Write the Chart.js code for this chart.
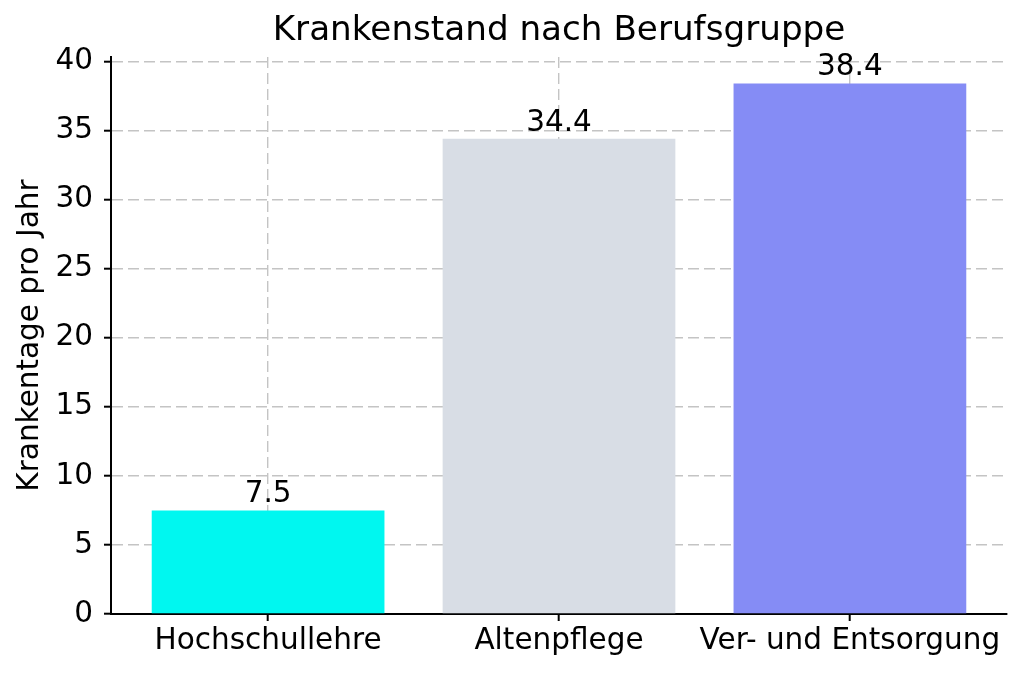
<!DOCTYPE html>
<html lang="de">
<head>
<meta charset="utf-8">
<title>Krankenstand nach Berufsgruppe</title>
<script src="https://cdn.jsdelivr.net/npm/chart.js@4/dist/chart.umd.min.js"></script>
<style>
  html, body { margin: 0; padding: 0; background: #fff; }
  #wrap { width: 1024px; height: 678px; position: relative; }
</style>
</head>
<body>
<div id="wrap"><canvas id="chart"></canvas></div>
<script>
'use strict';

const categories = ['Hochschullehre', 'Altenpflege', 'Ver- und Entsorgung'];
const sickDays = [7.5, 34.4, 38.4];
const barColors = ['#00F7F0', '#D8DDE5', '#858CF5'];
const yTicks = [0, 5, 10, 15, 20, 25, 30, 35, 40];

const gridColor = '#c4c4c4';
const labelSize = 29.5;

Chart.defaults.font.family = "'DejaVu Sans', sans-serif";
Chart.defaults.color = '#000';

// value labels above the bars
const barLabels = {
  id: 'barLabels',
  afterDraw(chart) {
    const ctx = chart.ctx;
    const meta = chart.getDatasetMeta(0);
    ctx.save();
    ctx.font = labelSize + "px 'DejaVu Sans', sans-serif";
    ctx.fillStyle = '#000';
    ctx.textAlign = 'center';
    ctx.textBaseline = 'bottom';
    meta.data.forEach((bar, i) => {
      ctx.fillText(String(sickDays[i]), bar.x, bar.y - 1);
    });
    ctx.restore();
  }
};

new Chart(document.getElementById('chart').getContext('2d'), {
  type: 'bar',
  data: {
    datasets: [{
      data: sickDays.map((v, i) => ({ x: i, y: v })),
      backgroundColor: barColors,
      borderWidth: 0,
      barPercentage: 1,
      categoryPercentage: 0.8
    }]
  },
  options: {
    responsive: true,
    maintainAspectRatio: false,
    animation: false,
    layout: { padding: { top: 0, right: 17, bottom: 0, left: 0 } },
    plugins: {
      legend: { display: false },
      tooltip: { enabled: false },
      title: {
        display: true,
        text: 'Krankenstand nach Berufsgruppe',
        fullSize: false,
        font: { size: 34.2, weight: 'normal' },
        color: '#000',
        padding: { top: 11, bottom: 5 }
      }
    },
    scales: {
      x: {
        type: 'linear',
        min: -0.54,
        max: 2.54,
        offset: false,
        z: 1,
        afterBuildTicks: s => { s.ticks = categories.map((_, i) => ({ value: i })); },
        afterFit: s => { s.height = 64; },
        ticks: {
          font: { size: labelSize },
          color: '#000',
          padding: 3,
          maxRotation: 0,
          autoSkip: false,
          callback: v => categories[v]
        },
        grid: {
          offset: false,
          color: gridColor,
          lineWidth: 1.4,
          drawTicks: true,
          tickLength: 7,
          tickColor: '#000',
          tickWidth: 2
        },
        border: { display: true, color: '#000', width: 2, dash: [11, 5] }
      },
      y: {
        min: 0,
        max: 40.32,
        z: 1,
        afterBuildTicks: s => { s.ticks = yTicks.map(v => ({ value: v })); },
        afterFit: s => { s.width = 111; },
        ticks: {
          font: { size: labelSize },
          color: '#000',
          padding: 11
        },
        title: {
          display: true,
          text: 'Krankentage pro Jahr',
          font: { size: labelSize },
          color: '#000',
          padding: { top: 13, bottom: 0 }
        },
        grid: {
          color: gridColor,
          lineWidth: 1.4,
          drawTicks: true,
          tickLength: 7,
          tickColor: '#000',
          tickWidth: 2
        },
        border: { display: true, color: '#000', width: 2, dash: [11, 5] }
      }
    }
  },
  plugins: [barLabels]
});
</script>
</body>
</html>
